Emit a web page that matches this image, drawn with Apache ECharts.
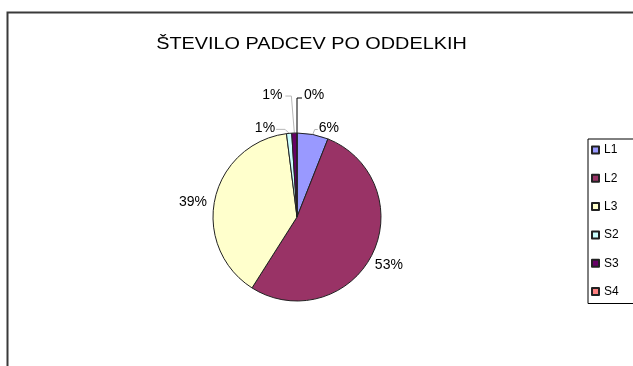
<!DOCTYPE html>
<html>
<head>
<meta charset="utf-8">
<style>
  html, body { margin: 0; padding: 0; background: #fff; }
  #chart { width: 633px; height: 366px; }
</style>
<script src="https://cdn.jsdelivr.net/npm/echarts@6/dist/echarts.min.js"></script>
</head>
<body>
<div id="chart"></div>
<script>
// Falls per department (percent of total)
const titleText = 'ŠTEVILO PADCEV PO ODDELKIH';
const departments = ['L1', 'L2', 'L3', 'S2', 'S3', 'S4'];
const shares = [6, 53, 39, 1, 1, 0];
const sliceColors = ['#9999FF', '#993366', '#FFFFCC', '#CCFFFF', '#660066', '#FF8080'];

const FONT = 'Liberation Sans, Arial, sans-serif';

// Where each percentage label sits relative to the point on the slice rim
// (dx, dy), which side it grows from, and the shape of its leader line.
const labelPlacement = {
  L1: { dx: 6, dy: -6, align: 'left', leader: 'up-right' },
  L2: { dx: 3, dy: 10, align: 'left', leader: 'none' },
  L3: { dx: -8, dy: 3, align: 'right', leader: 'none' },
  S2: { dx: -14, dy: -5, align: 'right', leader: 'up-left' },
  S3: { dx: -12, dy: -38, align: 'right', leader: 'tall-left' },
  S4: { dx: 7, dy: -38, align: 'left', leader: 'tall-right' }
};

const chart = echarts.init(document.getElementById('chart'), null, { renderer: 'canvas' });

const data = departments.map((name, i) => ({
  name,
  value: shares[i],
  itemStyle: { color: sliceColors[i] },
  labelLine: {
    show: true,
    lineStyle: {
      color: name === 'S4' ? '#000' : '#b8b8b8',
      width: labelPlacement[name].leader === 'none' ? 0 : 1,
      opacity: labelPlacement[name].leader === 'none' ? 0 : 1
    }
  }
}));

function placeLabel(params) {
  const name = departments[params.dataIndex];
  const cfg = labelPlacement[name];
  const rim = params.labelLinePoints ? params.labelLinePoints[0] : [0, 0];
  const lx = rim[0] + cfg.dx;
  const ly = rim[1] + cfg.dy;
  let pts;
  switch (cfg.leader) {
    case 'up-right':
      pts = [rim, [rim[0] + 2, ly + 1], [lx - 1, ly + 1]];
      break;
    case 'up-left':
      pts = [rim, [rim[0] - 4, ly + 1], [lx + 1, ly + 1]];
      break;
    case 'tall-left':
      pts = [rim, [rim[0] - 3, ly + 1], [lx + 3, ly + 1]];
      break;
    case 'tall-right':
      pts = [rim, [rim[0], ly + 3], [lx - 2, ly + 3]];
      break;
    default:
      pts = [rim, rim, rim];
  }
  return {
    x: lx,
    y: ly,
    align: cfg.align,
    verticalAlign: 'middle',
    labelLinePoints: pts
  };
}

chart.setOption({
  animation: false,
  backgroundColor: '#fff',
  graphic: [
    {
      type: 'rect',
      shape: { x: 7.5, y: 12.5, width: 700, height: 400 },
      style: { fill: 'none', stroke: '#3a3a3a', lineWidth: 2 },
      z: -1
    },
    {
      type: 'text',
      x: 311.5,
      y: 45,
      scaleX: 1.24,
      style: {
        text: titleText,
        align: 'center',
        verticalAlign: 'middle',
        fontFamily: FONT,
        fontSize: 16,
        fill: '#000'
      }
    }
  ],
  legend: {
    orient: 'vertical',
    left: 588,
    top: 139,
    padding: [4, 40, 5, 3],
    itemGap: 14.3,
    itemWidth: 7,
    itemHeight: 7,
    icon: 'rect',
    borderColor: '#000',
    borderWidth: 1,
    textStyle: { fontFamily: FONT, fontSize: 12, color: '#000', lineHeight: 14 },
    data: departments
  },
  series: [{
    type: 'pie',
    center: [297, 217],
    radius: 84,
    startAngle: 90,
    clockwise: true,
    avoidLabelOverlap: false,
    itemStyle: { borderColor: '#222', borderWidth: 1 },
    emphasis: { disabled: true },
    label: {
      show: true,
      position: 'outside',
      formatter: p => p.value + '%',
      fontFamily: FONT,
      fontSize: 14,
      color: '#000'
    },
    labelLine: { length: 8, length2: 4 },
    labelLayout: placeLabel,
    data
  }]
});
</script>
</body>
</html>
